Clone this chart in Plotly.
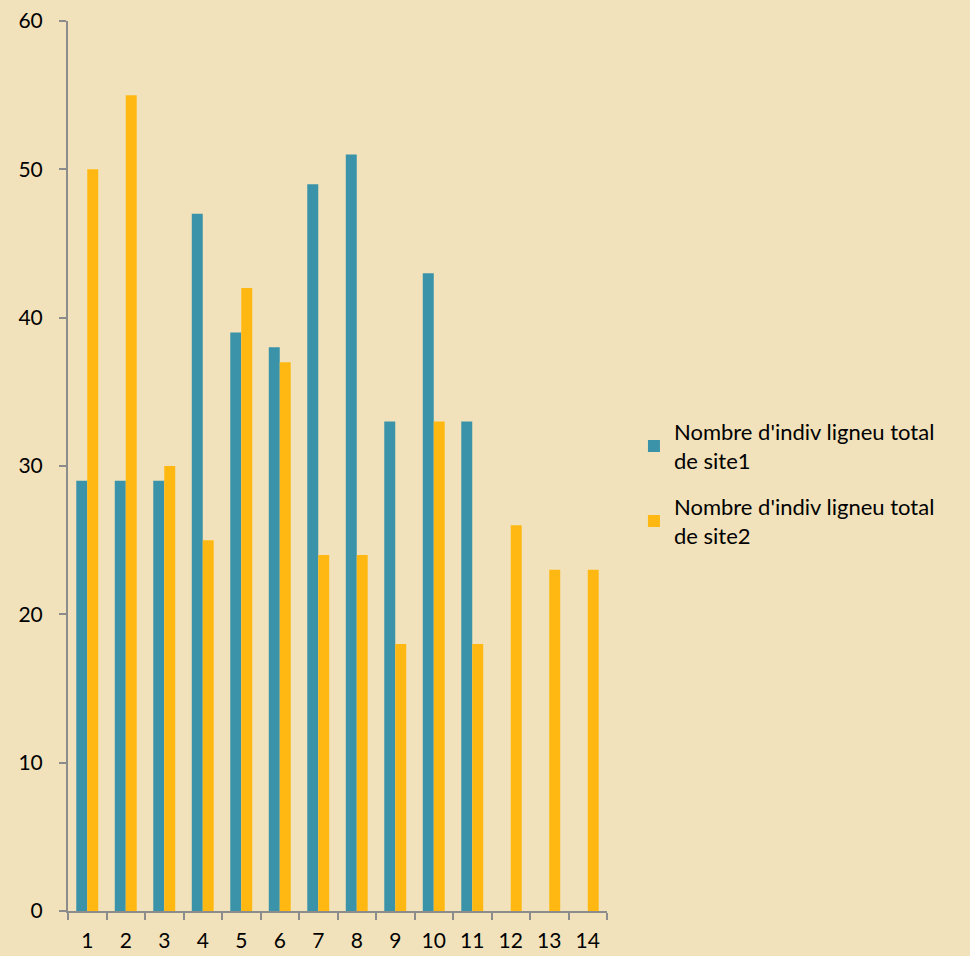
import plotly.graph_objects as go

categories = ["1", "2", "3", "4", "5", "6", "7", "8", "9", "10", "11", "12", "13", "14"]
site1 = [29, 29, 29, 47, 39, 38, 49, 51, 33, 43, 33, None, None, None]
site2 = [50, 55, 30, 25, 42, 37, 24, 24, 18, 33, 18, 26, 23, 23]
series_names = ["Nombre d'indiv ligneu total<br>de site1", "Nombre d'indiv ligneu total<br>de site2"]
y_ticks = [0, 10, 20, 30, 40, 50, 60]

fig = go.Figure()
fig.add_trace(go.Bar(x=categories, y=site1, name=series_names[0], legendgroup="a",
                     marker_color="#3A93A9", marker_line_width=0))
fig.add_trace(go.Bar(x=categories, y=site2, name=series_names[1], legendgroup="b",
                     marker_color="#FFB812", marker_line_width=0))

axis_color = "#8C8C8C"
fig.update_layout(
    width=970, height=956,
    margin=dict(l=68, r=363, t=21, b=45),
    paper_bgcolor="#F1E2BB",
    plot_bgcolor="#F1E2BB",
    barmode="group",
    bargap=0.43,
    bargroupgap=0,
    font=dict(family="Lato, sans-serif", size=20, color="#000000"),
    legend=dict(x=1.05, y=0.48, yanchor="middle", xanchor="left",
                font=dict(size=22), bgcolor="rgba(0,0,0,0)", tracegroupgap=15,
                itemwidth=30),
    showlegend=True,
)
fig.update_xaxes(
    type="category", showgrid=False, showline=True, linecolor=axis_color, linewidth=2,
    ticks="outside", tickson="boundaries", ticklen=7, tickcolor=axis_color, tickwidth=2,
    tickfont=dict(size=21), zeroline=False, ticklabelstandoff=10, automargin=False,
)
fig.update_yaxes(
    range=[0, 60], tickvals=y_ticks, showgrid=False, showline=True, linecolor=axis_color,
    linewidth=2, ticks="outside", ticklen=7, tickcolor=axis_color, tickwidth=2,
    tickfont=dict(size=21), zeroline=False, ticklabelstandoff=12, automargin=False,
)

fig.write_html("out.html")
